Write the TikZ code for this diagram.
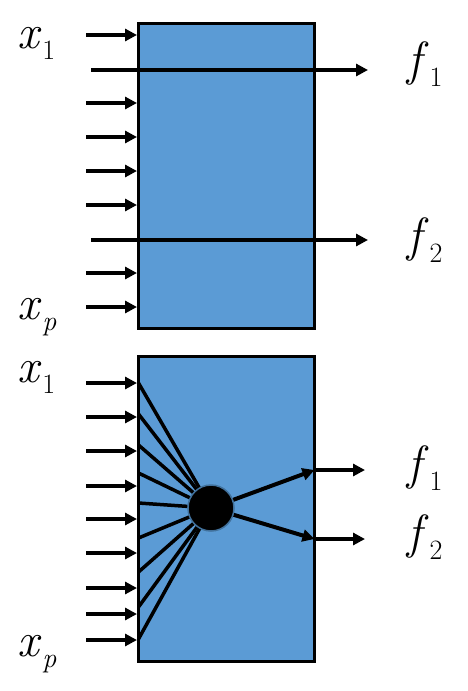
\documentclass[tikz,border=0pt]{standalone}
\usepackage{fontspec}
\usetikzlibrary{arrows.meta, positioning, calc}
\definecolor{panelblue}{RGB}{91,155,213}
\definecolor{hubedge}{RGB}{65,113,156}
\newcommand{\varlabel}[2]{\textit{#1}\kern1pt\raisebox{-11pt}{\fontsize{28}{28}\selectfont #2}}
\tikzset{
  panel/.style={draw=black, line width=3pt, fill=panelblue, minimum width=176pt,
                minimum height=305pt, inner sep=0pt},
  varname/.style={inner sep=0pt, anchor=base west, font=\fontsize{48}{48}\selectfont},
  feed/.style={line width=4pt, -{Triangle[length=12pt, width=12pt]}},
  spoke/.style={line width=3.5pt},
}

\begin{document}
\begin{tikzpicture}[x=1pt, y=-1pt]
\useasboundingbox (0,0) rectangle (467,691);

% upper panel: outputs are single inputs passed through
\node[panel] (lin) at (226.5,175.5) {};
\foreach \i in {0,2,3,4,5,7,8} {
  \coordinate (in\i) at (86,35+34*\i);
  \draw[feed] (in\i) -- (in\i -| lin.west);
}
\coordinate (pass1) at (91,70);
\coordinate (pass2) at (91,240);
\coordinate (out1) at (368,70);
\coordinate (out2) at (368,240);
\draw[feed] (pass1) -- (out1);
\draw[feed] (pass2) -- (out2);

\node[varname] (xa) at (17,48) {\varlabel{x}{1}};
\node[varname] (xb) at (17,319) {\varlabel{x}{\textit{p}}};
\node[varname] (fa) at (407,75) {\varlabel{f}{1}};
\node[varname] (fb) at (407,251) {\varlabel{f}{2}};

% lower panel: all inputs combined in one unit
\node[panel] (nonlin) at (226.5,509.25) {};
\foreach \y [count=\i] in {383,417,451,486,519,553,588,614,640} {
  \coordinate (src\i) at (86,\y);
  \draw[feed] (src\i) -- (src\i -| nonlin.west);
}
\node[circle, fill=black, draw=hubedge, line width=1.5pt, minimum size=46pt,
      inner sep=0pt] (hub) at (211,508) {};
\foreach \y [count=\i] in {383,414,445,473,503,538,572,607,639} {
  \coordinate (tap\i) at (138.5,\y);
  \draw[spoke] (tap\i) -- (hub);
}
\coordinate (port1) at (314.5,470);
\coordinate (port2) at (314.5,539);
\coordinate (end1) at (365,470);
\coordinate (end2) at (365,539);
\draw[feed] (hub) -- (port1);
\draw[feed] (hub) -- (port2);
\draw[feed] (port1) -- (end1);
\draw[feed] (port2) -- (end2);

\node[varname] (xc) at (17,382) {\varlabel{x}{1}};
\node[varname] (xd) at (17,656) {\varlabel{x}{\textit{p}}};
\node[varname] (fc) at (407,479) {\varlabel{f}{1}};
\node[varname] (fd) at (407,548) {\varlabel{f}{2}};
\end{tikzpicture}
\end{document}
